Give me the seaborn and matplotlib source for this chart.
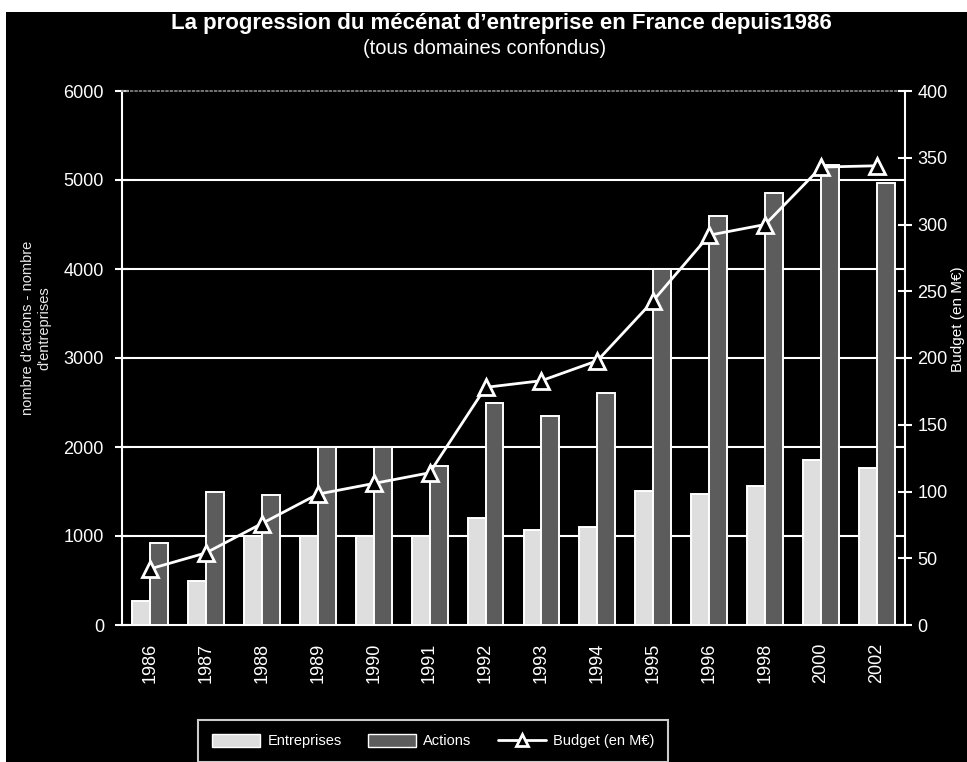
import numpy as np
import pandas as pd
import matplotlib
matplotlib.use("Agg")
import matplotlib.pyplot as plt
from matplotlib.patches import Patch, Rectangle
from matplotlib.lines import Line2D
import seaborn as sns

# Data
years = ["1986", "1987", "1988", "1989", "1990", "1991", "1992",
         "1993", "1994", "1995", "1996", "1998", "2000", "2002"]
entreprises = [270, 500, 1000, 1000, 1000, 1000, 1200,
               1070, 1100, 1510, 1470, 1560, 1850, 1760]
actions = [920, 1500, 1460, 2000, 2000, 1790, 2500,
           2350, 2610, 4000, 4590, 4850, 5170, 4970]
budget = [42, 54, 76, 98, 106, 114, 178,
          183, 198, 243, 292, 300, 343, 344]

df = pd.DataFrame({
    "annee": years * 2,
    "valeur": entreprises + actions,
    "serie": ["Entreprises"] * len(years) + ["Actions"] * len(years),
})

sns.set_theme(style="white")
plt.rcParams["font.family"] = ["Liberation Sans", "DejaVu Sans"]

W, H = 967, 762
fig = plt.figure(figsize=(W / 100, H / 100), dpi=100, facecolor="white")
# black scanned page, with thin white margin top and left
fig.patches.append(Rectangle((6 / W, 0), 1, 1 - 12 / H, transform=fig.transFigure,
                             facecolor="black", edgecolor="none", zorder=-10))

ax = fig.add_axes([122 / W, 1 - 625 / H, (905 - 122) / W, (625 - 91) / H])
ax.set_facecolor("black")

c_ent = "#dedede"
c_act = "#5c5c5c"

sns.barplot(
    data=df, x="annee", y="valeur", hue="serie",
    palette={"Entreprises": c_ent, "Actions": c_act},
    width=0.64, gap=0, edgecolor="white", linewidth=1.4,
    legend=False, ax=ax, zorder=3
)

ax.set_xlim(-0.5, len(years) - 0.5)
ax.set_ylim(0, 6000)
ax.set_yticks(range(0, 6001, 1000))
ax.grid(axis="y", color="white", linewidth=1.5)
ax.grid(axis="x", visible=False)
ax.set_axisbelow(True)
ax.get_ygridlines()[-1].set_visible(False)
ax.get_ygridlines()[0].set_visible(False)

ax.set_xlabel("")
ax.set_ylabel("")
ax.set_xticks(range(len(years)))
ax.set_xticklabels(years, rotation=90, color="white", fontsize=13)
ax.set_xticks(np.arange(-0.5, len(years), 1), minor=True)
ax.tick_params(axis="x", which="major", length=0, pad=13)
ax.tick_params(axis="x", which="minor", direction="inout", length=12,
               width=1.5, color="white")
ax.tick_params(axis="y", direction="inout", length=10, width=1.5,
               color="white", labelcolor="white", labelsize=13, pad=8, left=True)

for side in ["left", "bottom"]:
    ax.spines[side].set_color("white")
    ax.spines[side].set_linewidth(1.5)
ax.spines["right"].set_visible(False)
ax.spines["top"].set_color("#8a8a8a")
ax.spines["top"].set_linestyle(":")
ax.spines["top"].set_linewidth(1.2)

# budget line on the right axis
ax2 = ax.twinx()
sns.lineplot(x=np.arange(len(years)), y=budget, ax=ax2, color="white",
             linewidth=2, marker="^", markersize=11, markerfacecolor="black",
             markeredgecolor="white", markeredgewidth=2, zorder=5)
ax2.set_ylim(0, 400)
ax2.set_yticks(range(0, 401, 50))
ax2.tick_params(axis="y", direction="inout", length=10, width=1.5,
                color="white", labelcolor="white", labelsize=13, pad=4, right=True)
for side in ["left", "top", "bottom"]:
    ax2.spines[side].set_visible(False)
ax2.spines["right"].set_color("white")
ax2.spines["right"].set_linewidth(1.5)
ax2.set_ylabel("")

# titles
fig.text(501 / W, 1 - 24 / H,
         "La progression du mécénat d’entreprise en France depuis1986",
         color="white", fontsize=16, fontweight="bold", ha="center", va="center")
fig.text(485 / W, 1 - 48 / H, "(tous domaines confondus)",
         color="white", fontsize=14.5, ha="center", va="center")

# left axis label
fig.text(36 / W, 1 - 328 / H, "nombre d'actions - nombre\nd'entreprises",
         color="#e8e8e8", fontsize=10.5, rotation=90, ha="center", va="center",
         multialignment="center")

# right axis label, at the page edge
fig.text(965 / W, 1 - 266 / H, "Budget (en M€)", color="white", fontsize=11,
         rotation=90, ha="right", va="top")

# legend
handles = [
    Patch(facecolor=c_ent, edgecolor="white", label="Entreprises"),
    Patch(facecolor=c_act, edgecolor="white", label="Actions"),
    Line2D([0], [0], color="white", linewidth=2, marker="^", markersize=9,
           markerfacecolor="black", markeredgecolor="white", markeredgewidth=2,
           label="Budget (en M€)"),
]
leg = fig.legend(handles=handles, loc="upper left", bbox_to_anchor=(198 / W, 1 - 720 / H),
                 ncol=3, frameon=True, fontsize=10.5, handlelength=3.3,
                 handleheight=1.0, handletextpad=0.5, columnspacing=1.8,
                 borderpad=0.95, borderaxespad=0, fancybox=False)
leg.get_frame().set_facecolor("black")
leg.get_frame().set_edgecolor("white")
leg.get_frame().set_linewidth(1.5)
for t in leg.get_texts():
    t.set_color("white")

fig.savefig("out.png", dpi=100, facecolor=fig.get_facecolor())
plt.close(fig)
